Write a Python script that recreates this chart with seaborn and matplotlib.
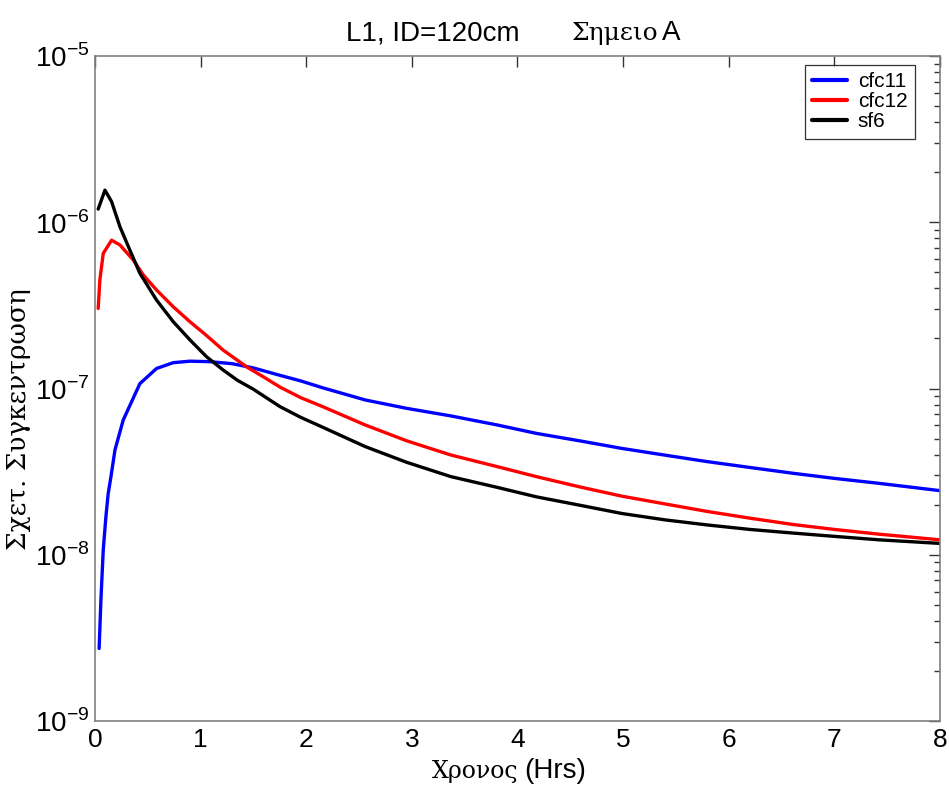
import numpy as np
import pandas as pd
import matplotlib
matplotlib.use("Agg")
import matplotlib.pyplot as plt
import matplotlib.ticker as mticker
import seaborn as sns

# values (time in hours, relative concentration)
cfc11_t = [0.04, 0.057, 0.079, 0.104, 0.126, 0.152, 0.19, 0.268, 0.426, 0.584, 0.742, 0.9,
           1.09, 1.3, 1.5, 1.752, 1.95, 2.156, 2.56, 2.95, 3.37, 3.8, 4.18, 4.6, 4.99, 5.4,
           5.8, 6.2, 6.61, 7.0, 7.42, 8.0]
cfc11_c = [2.73e-9, 5.35e-9, 1.07e-8, 1.69e-8, 2.34e-8, 2.95e-8, 4.27e-8, 6.46e-8, 1.07e-7,
           1.32e-7, 1.43e-7, 1.46e-7, 1.45e-7, 1.41e-7, 1.33e-7, 1.20e-7, 1.11e-7, 1.01e-7,
           8.53e-8, 7.6e-8, 6.84e-8, 6.05e-8, 5.37e-8, 4.83e-8, 4.36e-8, 3.97e-8, 3.63e-8,
           3.35e-8, 3.09e-8, 2.88e-8, 2.69e-8, 2.43e-8]

cfc12_t = [0.031, 0.047, 0.079, 0.158, 0.237, 0.363, 0.458, 0.584, 0.742, 0.9, 1.058, 1.215,
           1.436, 1.6, 1.752, 1.95, 2.156, 2.56, 2.95, 3.37, 3.8, 4.18, 4.6, 4.99, 5.4, 5.8,
           6.2, 6.61, 7.0, 7.42, 8.0]
cfc12_c = [3.03e-7, 4.5e-7, 6.5e-7, 7.8e-7, 7.3e-7, 5.93e-7, 4.82e-7, 3.91e-7, 3.1e-7, 2.52e-7,
           2.08e-7, 1.70e-7, 1.35e-7, 1.17e-7, 1.02e-7, 8.8e-8, 7.78e-8, 6.03e-8, 4.85e-8,
           3.98e-8, 3.4e-8, 2.95e-8, 2.55e-8, 2.25e-8, 2.02e-8, 1.82e-8, 1.66e-8, 1.52e-8,
           1.42e-8, 1.33e-8, 1.23e-8]

sf6_t = [0.031, 0.095, 0.158, 0.237, 0.331, 0.426, 0.584, 0.742, 0.9, 1.058, 1.215, 1.35, 1.5,
         1.752, 1.95, 2.156, 2.56, 2.95, 3.37, 3.8, 4.18, 4.6, 4.99, 5.4, 5.8, 6.2, 6.61, 7.0,
         7.42, 8.0]
sf6_c = [1.20e-6, 1.56e-6, 1.33e-6, 9.4e-7, 6.8e-7, 4.93e-7, 3.4e-7, 2.52e-7, 1.96e-7, 1.55e-7,
         1.29e-7, 1.12e-7, 9.9e-8, 7.78e-8, 6.7e-8, 5.85e-8, 4.47e-8, 3.6e-8, 2.95e-8, 2.55e-8,
         2.23e-8, 1.98e-8, 1.77e-8, 1.62e-8, 1.51e-8, 1.42e-8, 1.35e-8, 1.29e-8, 1.23e-8,
         1.17e-8]

y_decades = [1e-9, 1e-8, 1e-7, 1e-6, 1e-5]

series = [("cfc11", cfc11_t, cfc11_c, "#0000ff"),
          ("cfc12", cfc12_t, cfc12_c, "#ff0000"),
          ("sf6", sf6_t, sf6_c, "#000000")]

sns.set_theme(style="white")
plt.rcParams["font.family"] = ["Liberation Sans", "DejaVu Sans"]
plt.rcParams["mathtext.fontset"] = "custom"
plt.rcParams["mathtext.rm"] = "Liberation Sans"
for k in ["text.color", "axes.labelcolor", "xtick.labelcolor", "ytick.labelcolor"]:
    plt.rcParams[k] = "black"

fig = plt.figure(figsize=(9.49, 7.89), dpi=100)
ax = fig.add_axes([0.100, 0.0862, 0.8905, 0.8428])

for name, t, c, col in series:
    df = pd.DataFrame({"t": t, "c": c})
    sns.lineplot(data=df, x="t", y="c", ax=ax, color=col, linewidth=2.4, label=name)

ax.set_yscale("log")
ax.set_xlim(0, 8)
ax.set_ylim(y_decades[0], y_decades[-1])
ax.set_xticks(range(0, 9))
ax.yaxis.set_major_locator(mticker.FixedLocator(y_decades))
ax.yaxis.set_minor_locator(mticker.LogLocator(base=10, subs=np.arange(2, 10), numticks=20))
ax.yaxis.set_minor_formatter(mticker.NullFormatter())
ax.yaxis.set_major_formatter(mticker.FuncFormatter(lambda v, p: r"$10^{%d}$" % round(np.log10(v))))

ax.tick_params(axis="both", which="both", direction="in", top=True, right=True,
               color="#333333", labelcolor="black")
ax.tick_params(axis="x", which="major", pad=5, labelsize=19)
ax.tick_params(axis="y", which="major", pad=4, labelsize=20)
ax.tick_params(axis="both", which="major", length=8, width=1)
ax.tick_params(axis="y", which="minor", length=4, width=1)
for s in ax.spines.values():
    s.set_color("#808080")
    s.set_linewidth(1.2)

ax.set_xlabel("")
ax.set_ylabel("")
# axis labels: greek in a serif face, latin in sans
fig.text(0.546, 0.014, "Χρονος", family="DejaVu Serif", fontsize=17, ha="right", va="baseline")
fig.text(0.552, 0.014, "(Hrs)", family="Liberation Sans", fontsize=20, ha="left", va="baseline")
fig.text(0.02, 0.469, "Σχετ. Συγκεντρωση", family="DejaVu Serif", fontsize=19,
         rotation=90, ha="center", va="center")

fig.text(0.548, 0.949, "L1, ID=120cm", family="Liberation Sans", fontsize=20, ha="right", va="baseline")
fig.text(0.603, 0.949, "Σημειο", family="DejaVu Serif", fontsize=18, ha="left", va="baseline")
fig.text(0.698, 0.949, "Α", family="Liberation Sans", fontsize=20, ha="left", va="baseline")

leg = ax.legend(loc="upper right", bbox_to_anchor=(0.970, 0.9865), fontsize=15, frameon=True,
                fancybox=False, edgecolor="black", handlelength=1.67, borderpad=0.35,
                labelspacing=0.05, handletextpad=0.52, borderaxespad=0.0)
leg.get_frame().set_linewidth(0.9)
for ln in leg.get_lines():
    ln.set_linewidth(3)

fig.savefig("out.png", dpi=100, facecolor="white")
